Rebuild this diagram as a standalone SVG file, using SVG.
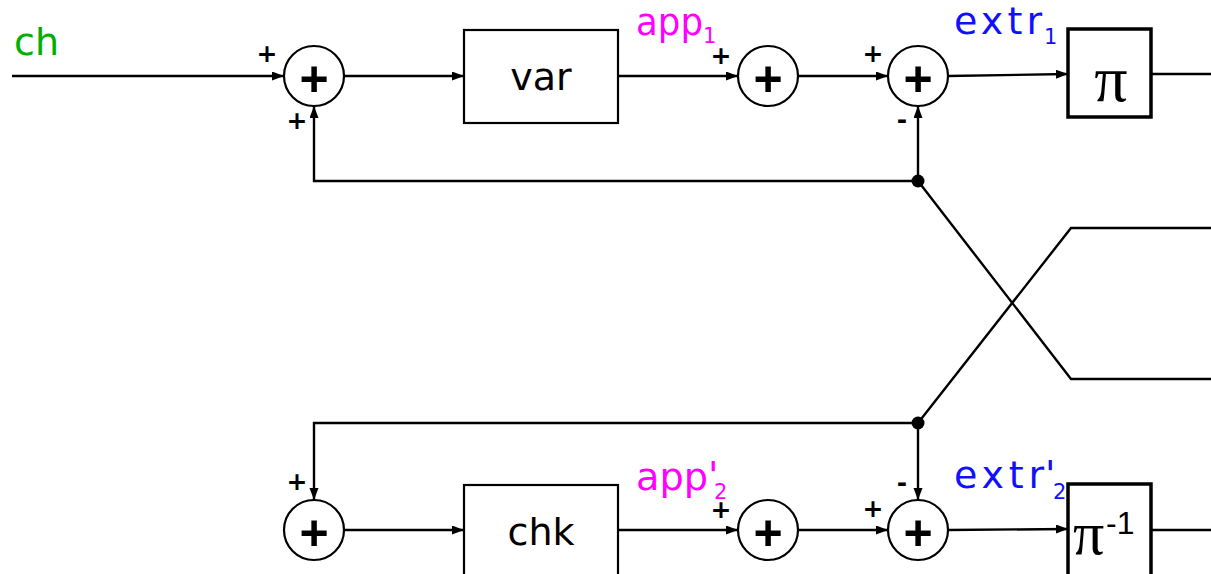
<svg xmlns="http://www.w3.org/2000/svg" width="1211" height="574" viewBox="0 0 1211 574">
<style>
.ln{fill:none;stroke:#000;stroke-width:2.4}
.arr{marker-end:url(#ah)}
.sum{fill:#fff;stroke:#000;stroke-width:2.2}
.box{fill:#fff;stroke:#000;stroke-width:2.2}
.pbox{fill:#fff;stroke:#000;stroke-width:3.5}
.bp{font-family:"Liberation Sans",Arial,sans-serif;font-weight:bold;font-size:50px;text-anchor:middle}
.sg{font-family:"DejaVu Sans",sans-serif;font-weight:bold;font-size:25px;text-anchor:middle}
.lb{font-family:"DejaVu Sans",sans-serif;font-size:38px}
.sub{font-size:21px}
.pi{font-family:"Liberation Serif","Times New Roman",serif}
</style>
<defs>
<marker id="ah" markerUnits="userSpaceOnUse" markerWidth="13" markerHeight="10" refX="12" refY="4.5" orient="auto">
<path d="M0,0 L12,4.5 L0,9 z" fill="#000"/>
</marker>
</defs>
<g id="connectors">
<path class="ln arr" d="M12,76 H284"/>
<path class="ln arr" d="M344,76 H464"/>
<path class="ln arr" d="M618,76 H738"/>
<path class="ln arr" d="M798,76 H888"/>
<path class="ln arr" d="M948,76 L1068,74"/>
<path class="ln" d="M1151,74 H1211"/>
<path class="ln arr" d="M918,181 H314 V106"/>
<path class="ln arr" d="M918,181 V106"/>
<path class="ln" d="M918,181 L1071,379 H1211"/>
<path class="ln" d="M918,423 L1071,228 H1211"/>
<path class="ln arr" d="M918,423 H314 V500"/>
<path class="ln arr" d="M918,423 V500"/>
<path class="ln arr" d="M344,530 H464"/>
<path class="ln arr" d="M618,530 H738"/>
<path class="ln arr" d="M798,530 H888"/>
<path class="ln arr" d="M948,530 L1068,529"/>
<path class="ln" d="M1151,530 H1211"/>
<circle cx="918" cy="181" r="6.5" fill="#000"/>
<circle cx="918" cy="423" r="6.5" fill="#000"/>
</g>
<g id="label-ch"><text class="lb" x="14" y="55" fill="#00b000">ch</text></g>
<g id="sum1">
<circle class="sum" cx="314" cy="76" r="30"/>
<text class="bp" x="314" y="96">+</text>
<text class="sg" x="267" y="62">+</text>
<text class="sg" x="297" y="129">+</text>
</g>
<g id="var">
<rect class="box" x="464" y="30" width="154" height="93"/>
<text class="lb" x="541" y="90" text-anchor="middle">var</text>
</g>
<g id="label-app1"><text class="lb" x="636" y="35" fill="#ff00ff"><tspan textLength="67" lengthAdjust="spacingAndGlyphs">app</tspan><tspan class="sub" x="703" y="43">1</tspan></text></g>
<g id="sum2">
<circle class="sum" cx="768" cy="76" r="30"/>
<text class="bp" x="768" y="96">+</text>
<text class="sg" x="721" y="64">+</text>
</g>
<g id="sum3">
<circle class="sum" cx="918" cy="76" r="30"/>
<text class="bp" x="918" y="96">+</text>
<text class="sg" x="873" y="62">+</text>
<text class="sg" x="902" y="128">-</text>
</g>
<g id="label-extr1"><text class="lb" x="954" y="34" fill="#1010ff"><tspan textLength="88" lengthAdjust="spacing">extr</tspan><tspan class="sub" x="1044" y="44">1</tspan></text></g>
<g id="pi">
<rect class="pbox" x="1068" y="29" width="83" height="88"/>
<text class="pi" x="1111" y="101" font-size="66" text-anchor="middle">π</text>
</g>
<g id="sum4">
<circle class="sum" cx="314" cy="530" r="30"/>
<text class="bp" x="314" y="550">+</text>
<text class="sg" x="297" y="490">+</text>
</g>
<g id="chk">
<rect class="box" x="464" y="485" width="154" height="100"/>
<text class="lb" x="541" y="545" text-anchor="middle">chk</text>
</g>
<g id="label-app2"><text class="lb" x="636" y="490" fill="#ff00ff"><tspan textLength="72" lengthAdjust="spacingAndGlyphs">app</tspan><tspan x="708" y="488">'</tspan><tspan class="sub" x="714" y="499">2</tspan></text></g>
<g id="sum5">
<circle class="sum" cx="768" cy="530" r="30"/>
<text class="bp" x="768" y="550">+</text>
<text class="sg" x="721" y="518">+</text>
</g>
<g id="sum6">
<circle class="sum" cx="918" cy="530" r="30"/>
<text class="bp" x="918" y="550">+</text>
<text class="sg" x="873" y="517">+</text>
<text class="sg" x="902" y="491">-</text>
</g>
<g id="label-extr2"><text class="lb" x="954" y="488" fill="#1010ff"><tspan textLength="90" lengthAdjust="spacing">extr</tspan><tspan x="1045" y="487">'</tspan><tspan class="sub" x="1053" y="499">2</tspan></text></g>
<g id="pi-inv">
<rect class="pbox" x="1068" y="484" width="83" height="100"/>
<text class="pi" x="1073" y="554" font-size="62">π<tspan font-family="Liberation Sans,Arial,sans-serif" font-size="32" x="1106" y="534">-1</tspan></text>
</g>
</svg>
